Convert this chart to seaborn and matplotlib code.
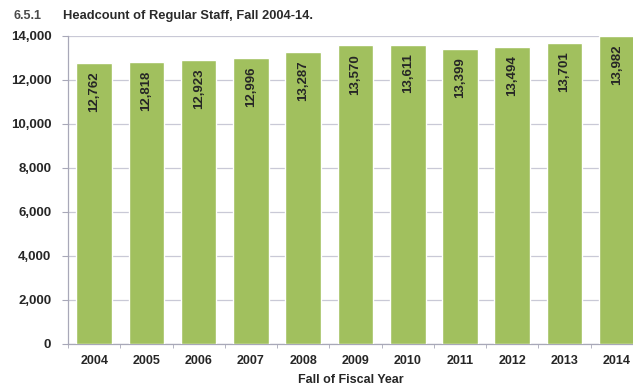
import matplotlib
matplotlib.use("Agg")
import matplotlib.pyplot as plt
import seaborn as sns
import pandas as pd
from matplotlib.ticker import FuncFormatter, MultipleLocator

# Headcount of regular staff by fall of fiscal year
years = ["2004", "2005", "2006", "2007", "2008", "2009",
         "2010", "2011", "2012", "2013", "2014"]
headcount = [12762, 12818, 12923, 12996, 13287, 13570,
             13611, 13399, 13494, 13701, 13982]
y_ticks = [0, 2000, 4000, 6000, 8000, 10000, 12000, 14000]

sns.set_style("white")
plt.rcParams["font.family"] = ["Liberation Sans", "DejaVu Sans"]
plt.rcParams["font.weight"] = "bold"

BAR = "#a1c05e"
TXT = "#262626"
GRID = "#c9c9d6"

fig = plt.figure(figsize=(6.33, 3.89), dpi=100)
ax = fig.add_axes([68 / 633, 1 - 344 / 389, 1 - 68 / 633, (344 - 36) / 389])

df = pd.DataFrame({"year": years, "count": headcount})
sns.barplot(data=df, x="year", y="count", color=BAR, saturation=1,
            width=0.68, ax=ax, zorder=3)

ax.set_ylim(0, 14000)
ax.set_xlim(-0.5, 10.31)
ax.set_yticks(y_ticks)
ax.yaxis.set_major_formatter(FuncFormatter(lambda v, p: f"{int(v):,}"))
ax.grid(axis="y", color=GRID, linewidth=0.9, zorder=0)
ax.set_axisbelow(True)

for side in ("top", "right"):
    ax.spines[side].set_visible(False)
for side in ("left", "bottom"):
    ax.spines[side].set_color("#a8a8b8")
    ax.spines[side].set_linewidth(0.9)

ax.xaxis.set_minor_locator(MultipleLocator(1, offset=0.5))
ax.tick_params(axis="x", which="minor", length=3, color="#a8a8b8", bottom=True)
ax.tick_params(axis="x", which="major", length=0, pad=8, labelsize=9, labelcolor=TXT)
ax.tick_params(axis="y", which="major", length=4, color="#a8a8b8", left=True,
               pad=8, labelsize=9.5, labelcolor=TXT)
for lbl in ax.get_xticklabels() + ax.get_yticklabels():
    lbl.set_fontweight("bold")

ax.set_ylabel("")
ax.set_xlabel("Fall of Fiscal Year", fontsize=9, fontweight="bold", color=TXT, labelpad=5)

# vertical value labels inside each bar, near the top
for i, v in enumerate(headcount):
    ax.text(i, v - 380, f"{v:,}", rotation=90, ha="center", va="top",
            fontsize=9.5, fontweight="bold", color=TXT, zorder=4)

fig.text(14 / 633, 1 - 16 / 389, "6.5.1", fontsize=9, fontweight="bold",
         color="#4a4a4a", va="center")
fig.text(63 / 633, 1 - 16 / 389, "Headcount of Regular Staff, Fall 2004-14.",
         fontsize=9.3, fontweight="bold", color="#2a2a2a", va="center")

fig.savefig("out.png", dpi=100)
